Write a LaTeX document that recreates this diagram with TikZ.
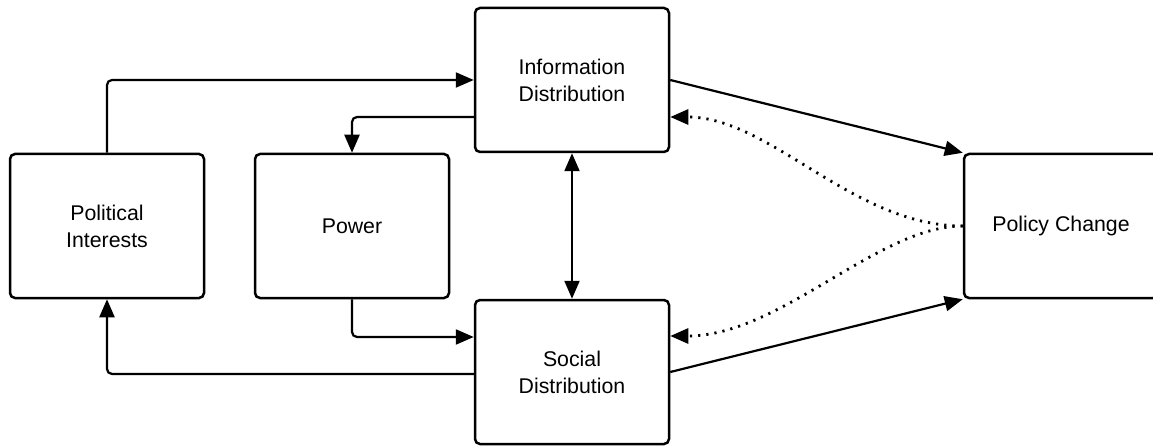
\documentclass[tikz,border=0pt]{standalone}
\usepackage{fontspec}
\setmainfont{Liberation Sans}
\usetikzlibrary{arrows.meta,calc}
\begin{document}
\begin{tikzpicture}[x=1pt,y=-1pt,
  box/.style={draw,line width=2.5pt,rounded corners=5pt,minimum width=194pt,minimum height=144pt,align=center,inner sep=0pt,font=\fontsize{21.3}{27}\selectfont},
  arr/.style={line width=2.2pt,rounded corners=5pt,-{Triangle[length=18pt,width=15pt]}},
  darr/.style={line width=2.2pt,{Triangle[length=18pt,width=15pt]}-{Triangle[length=18pt,width=15pt]}},
  dotarr/.style={line width=2.8pt,dash pattern=on 2.2pt off 6pt,-{Triangle[length=18pt,width=15pt]}}]
\useasboundingbox (0,0) rectangle (1153,446);
\clip (0,0) rectangle (1153,446);
\node[box] (info) at (572,80) {Information\\Distribution};
\node[box] (pol) at (107,226) {Political\\Interests};
\node[box] (power) at (352,226) {Power};
\node[box] (soc) at (572,372) {Social\\Distribution};
\node[box] (pc) at (1061,226) {Policy Change};
\draw[arr] (pol.north) |- (info.west);
\draw[arr] ([yshift=-37pt]info.west) -| (power.north);
\draw[arr] (power.south) |- ([yshift=35pt]soc.west);
\draw[arr] ([yshift=-2pt]soc.west) -| (pol.south);
\draw[darr] (info.south) -- (soc.north);
\draw[arr] (info.east) -- (pc.north west);
\draw[arr] (soc.east) -- (pc.south west);
\draw[dotarr] (pc.west) .. controls +(-110,0) and +(100,0) .. ([yshift=-37pt]info.east);
\draw[dotarr] (pc.west) .. controls +(-85,0) and +(110,0) .. ([yshift=36pt]soc.east);
\end{tikzpicture}
\end{document}
